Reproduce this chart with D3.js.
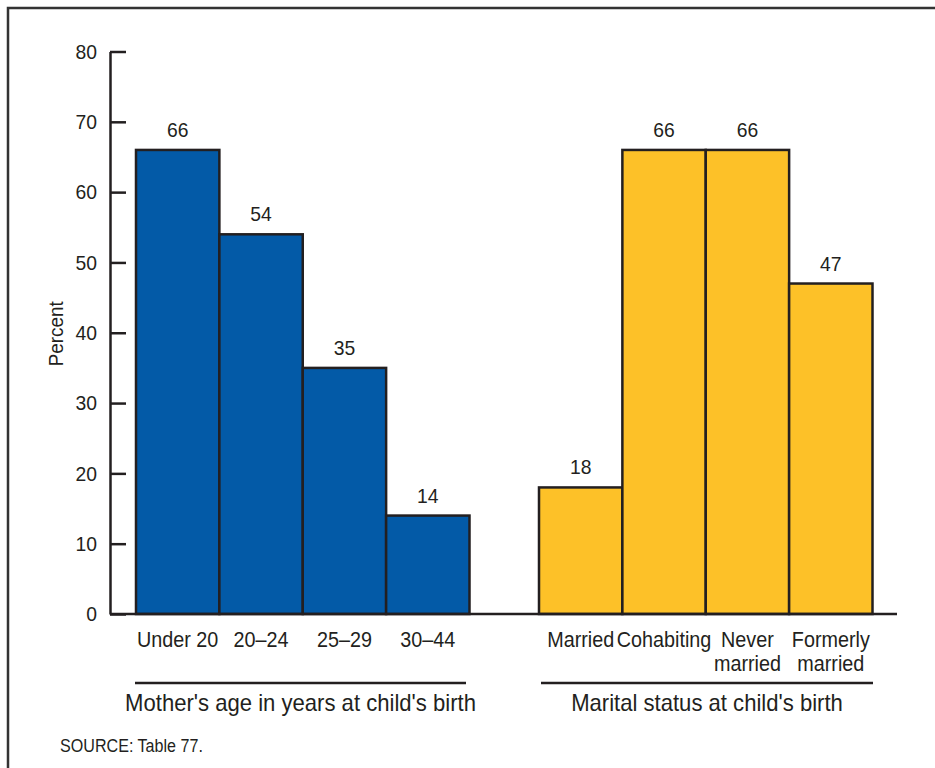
<!DOCTYPE html>
<html>
<head>
<meta charset="utf-8">
<script src="https://cdn.jsdelivr.net/npm/d3@7"></script>
<style>
  html, body { margin: 0; padding: 0; background: #fff; }
  svg { display: block; }
  text { font-family: "Liberation Sans", Arial, Helvetica, sans-serif; fill: #231f20; }
</style>
</head>
<body>
<svg id="chart" width="935" height="768"></svg>
<script>
const ageCategories = ["Under 20", "20–24", "25–29", "30–44"];
const ageValues = [66, 54, 35, 14];
const maritalCategories = ["Married", "Cohabiting", "Never married", "Formerly married"];
const maritalLabelLines = [["Married"], ["Cohabiting"], ["Never", "married"], ["Formerly", "married"]];
const maritalValues = [18, 66, 66, 47];
const yTicks = [0, 10, 20, 30, 40, 50, 60, 70, 80];
const groupTitles = ["Mother's age in years at child's birth", "Marital status at child's birth"];
const yTitle = "Percent";
const sourceNote = "SOURCE: Table 77.";

const svg = d3.select("#chart");
const ink = "#231f20";
const blue = "#035aa7";
const yellow = "#fdc128";
const squeeze = 0.92;

// narrow the glyphs horizontally, like the condensed face in the original
function condense(sel) {
  sel.each(function () {
    const w = this.getComputedTextLength();
    d3.select(this).attr("textLength", w * squeeze).attr("lengthAdjust", "spacingAndGlyphs");
  });
}

// frame
svg.append("rect")
  .attr("x", 8).attr("y", 8)
  .attr("width", 960).attr("height", 800)
  .attr("fill", "none")
  .attr("stroke", "#333")
  .attr("stroke-width", 2.5);

const y = d3.scaleLinear().domain([0, 80]).range([614, 51.5]);
const axisX = 110;

const xAge = d3.scaleBand().domain(ageCategories).range([136, 469.5]).paddingInner(0).paddingOuter(0);
const xMar = d3.scaleBand().domain(maritalCategories).range([539, 872.5]).paddingInner(0).paddingOuter(0);

// y axis
const yAxis = d3.axisLeft(y).tickValues(yTicks).tickSizeInner(-16).tickSizeOuter(0).tickPadding(13);
const gy = svg.append("g").attr("transform", `translate(${axisX},0)`).call(yAxis);
gy.select(".domain").attr("stroke", ink).attr("stroke-width", 2.5);
gy.selectAll(".tick line").attr("stroke", ink).attr("stroke-width", 2.5);
gy.selectAll(".tick text")
  .attr("font-size", 21)
  .attr("font-family", "Liberation Sans, Arial, sans-serif")
  .attr("fill", ink)
  .call(condense);

// y title
svg.append("text")
  .attr("transform", `translate(63,${(y(0) + y(80)) / 2 + 1}) rotate(-90)`)
  .attr("text-anchor", "middle")
  .attr("font-size", 20.5)
  .text(yTitle)
  .call(condense);

// bars
function drawGroup(xs, cats, vals, fill) {
  const g = svg.append("g");
  g.selectAll("rect").data(cats).join("rect")
    .attr("x", d => xs(d))
    .attr("y", (d, i) => y(vals[i]))
    .attr("width", xs.bandwidth())
    .attr("height", (d, i) => y(0) - y(vals[i]))
    .attr("fill", fill)
    .attr("stroke", ink)
    .attr("stroke-width", 2.5);
  g.selectAll("text.val").data(cats).join("text")
    .attr("class", "val")
    .attr("x", d => xs(d) + xs.bandwidth() / 2)
    .attr("y", (d, i) => y(vals[i]) - 13)
    .attr("text-anchor", "middle")
    .attr("font-size", 21)
    .text((d, i) => vals[i])
    .call(condense);
}
drawGroup(xAge, ageCategories, ageValues, blue);
drawGroup(xMar, maritalCategories, maritalValues, yellow);

// baseline
svg.append("line")
  .attr("x1", axisX).attr("x2", 897)
  .attr("y1", y(0)).attr("y2", y(0))
  .attr("stroke", ink).attr("stroke-width", 2.5);

// category labels
svg.append("g").selectAll("text").data(ageCategories).join("text")
  .attr("x", d => xAge(d) + xAge.bandwidth() / 2)
  .attr("y", 647)
  .attr("text-anchor", "middle")
  .attr("font-size", 21.5)
  .text(d => d)
  .call(condense);

const mg = svg.append("g").selectAll("text").data(maritalCategories).join("text")
  .attr("x", d => xMar(d) + xMar.bandwidth() / 2)
  .attr("y", 647)
  .attr("text-anchor", "middle")
  .attr("font-size", 21.5);
mg.each(function(d, i) {
  const t = d3.select(this);
  maritalLabelLines[i].forEach((line, j) => {
    t.append("tspan")
      .attr("x", xMar(d) + xMar.bandwidth() / 2)
      .attr("dy", j === 0 ? 0 : 24)
      .text(line);
  });
});
mg.selectAll("tspan").call(condense);

// group underlines and titles
const groups = [
  { x1: 135, x2: 466, title: groupTitles[0] },
  { x1: 541, x2: 873, title: groupTitles[1] }
];
groups.forEach(gp => {
  svg.append("line")
    .attr("x1", gp.x1).attr("x2", gp.x2)
    .attr("y1", 683).attr("y2", 683)
    .attr("stroke", ink).attr("stroke-width", 2.5);
  svg.append("text")
    .attr("x", (gp.x1 + gp.x2) / 2)
    .attr("y", 711)
    .attr("text-anchor", "middle")
    .attr("font-size", 24)
    .text(gp.title)
    .call(condense);
});

// source
svg.append("text")
  .attr("x", 60).attr("y", 752)
  .attr("font-size", 17.5)
  .text(sourceNote)
  .call(condense);
</script>
</body>
</html>
